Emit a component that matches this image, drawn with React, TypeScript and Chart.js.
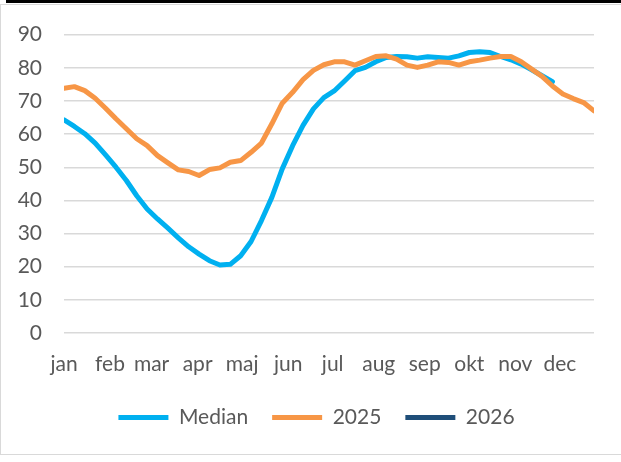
import React, { useEffect, useRef } from "react";
import { Chart, registerables } from "chart.js";

Chart.register(...registerables);

const monthLabels = ["jan", "feb", "mar", "apr", "maj", "jun", "jul", "aug", "sep", "okt", "nov", "dec"];
const monthStartDays = [0, 31, 59, 90, 120, 151, 181, 212, 243, 273, 304, 334];

const seriesNames = ["Median", "2025", "2026"];

const medianValues = [
  64.3, 62.3, 60.1, 57.3, 53.7, 50.0, 46.0, 41.4, 37.4, 34.4, 31.6, 28.7,
  26.0, 23.8, 21.8, 20.5, 20.7, 23.3, 27.6, 33.9, 40.9, 49.5, 56.5, 62.6,
  67.6, 71.0, 73.0, 76.0, 79.1, 80.1, 81.8, 83.1, 83.4, 83.3, 82.9, 83.3,
  83.1, 82.9, 83.6, 84.6, 84.8, 84.6, 83.4, 82.4, 81.1, 79.4, 77.6, 75.8,
];

const values2025 = [
  73.8, 74.3, 73.1, 70.8, 67.8, 64.6, 61.6, 58.6, 56.5, 53.5, 51.3, 49.2,
  48.7, 47.5, 49.3, 49.8, 51.5, 52.0, 54.5, 57.3, 63.1, 69.3, 72.6, 76.4,
  79.2, 80.9, 81.8, 81.8, 80.8, 82.1, 83.4, 83.6, 82.6, 80.8, 80.1, 80.8,
  81.8, 81.6, 80.8, 81.8, 82.3, 82.9, 83.4, 83.4, 81.8, 79.6, 77.4, 74.5,
  72.1, 70.7, 69.5, 67.0,
];

const values2026: number[] = [];

const FONT = "Lato";
const TEXT = "#595959";

const toPoints = (arr: number[]) => arr.map((y, i) => ({ x: i, y }));

export default function App() {
  const canvasRef = useRef<HTMLCanvasElement | null>(null);

  useEffect(() => {
    document.body.style.margin = "0";
    const canvas = canvasRef.current;
    if (!canvas) return;
    const tickPositions = monthStartDays.map((d) => d / 7);
    const common = {
      borderWidth: 5,
      pointRadius: 0,
      pointHoverRadius: 0,
      tension: 0,
      borderCapStyle: "round" as const,
      borderJoinStyle: "round" as const,
      fill: false,
      pointStyle: "line" as const,
    };
    const chart = new Chart(canvas, {
      type: "line",
      data: {
        datasets: [
          { ...common, label: seriesNames[0], data: toPoints(medianValues), borderColor: "#00B0F0", backgroundColor: "#00B0F0", order: 1 },
          { ...common, label: seriesNames[1], data: toPoints(values2025), borderColor: "#F79646", backgroundColor: "#F79646", order: 0 },
          { ...common, label: seriesNames[2], data: toPoints(values2026), borderColor: "#1F4E79", backgroundColor: "#1F4E79", order: 2 },
        ],
      },
      options: {
        responsive: false,
        animation: false,
        events: [],
        layout: { padding: { top: 34, left: 12, right: 0, bottom: 24 } },
        scales: {
          x: {
            type: "linear",
            min: 0,
            max: 51,
            grid: { display: false, drawTicks: false },
            border: { display: false },
            afterBuildTicks: (scale: any) => {
              scale.ticks = tickPositions.map((v) => ({ value: v }));
            },
            afterFit: (scale: any) => {
              scale.height = 50;
            },
            ticks: {
              autoSkip: false,
              maxRotation: 0,
              minRotation: 0,
              padding: 19,
              color: TEXT,
              font: { family: FONT, size: 21 },
              callback: (_v: any, i: number) => monthLabels[i],
            },
          },
          y: {
            min: 0,
            max: 90,
            grid: { color: "#d9d9d9", lineWidth: 1.4, drawTicks: false },
            border: { display: false },
            afterFit: (scale: any) => {
              scale.width = 52;
            },
            ticks: {
              stepSize: 10,
              padding: 22,
              color: TEXT,
              font: { family: FONT, size: 21 },
            },
          },
          yRightSpace: {
            type: "linear",
            position: "right",
            display: true,
            grid: { display: false, drawOnChartArea: false, drawTicks: false },
            border: { display: false },
            ticks: { display: false },
            afterFit: (scale: any) => {
              scale.width = 27;
            },
          },
        },
        plugins: {
          tooltip: { enabled: false },
          legend: {
            position: "bottom",
            labels: {
              usePointStyle: true,
              pointStyle: "line",
              pointStyleWidth: 50,
              boxWidth: 50,
              padding: 24,
              color: TEXT,
              font: { family: FONT, size: 21 },
              sort: (a: any, b: any) => a.datasetIndex - b.datasetIndex,
            },
          },
        },
      },
    });
    return () => chart.destroy();
  }, []);

  return (
    <div style={{ position: "absolute", left: 0, top: 0, width: 621, height: 462, background: "#fff", overflow: "hidden" }}>
      <div style={{ position: "absolute", left: 6, top: 0, width: 615, height: 3, background: "#000" }} />
      <div
        style={{
          position: "absolute",
          left: 0,
          top: 4,
          width: 640,
          height: 451,
          borderTop: "1px solid #d9d9d9",
          borderLeft: "1px solid #d9d9d9",
          borderBottom: "1px solid #d9d9d9",
          boxSizing: "border-box",
        }}
      />
      <canvas ref={canvasRef} width={621} height={462} style={{ position: "absolute", left: 0, top: 0 }} />
    </div>
  );
}
